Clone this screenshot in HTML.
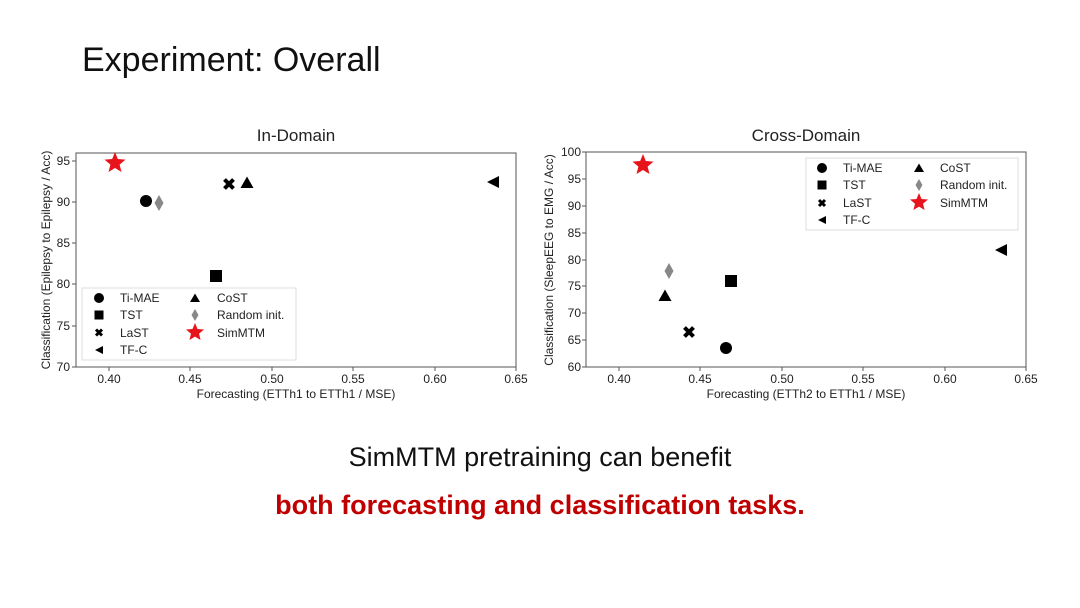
<!DOCTYPE html>
<html><head><meta charset="utf-8"><style>
html,body{margin:0;padding:0;background:#fff;width:1080px;height:608px;overflow:hidden}
svg{display:block}
</style></head><body>
<svg width="1080" height="608" xmlns="http://www.w3.org/2000/svg" font-family="Liberation Sans, sans-serif">
<text x="82" y="71" font-size="34" fill="#111">Experiment: Overall</text>

<!-- LEFT -->
<text x="296" y="141" font-size="17" text-anchor="middle" fill="#222">In-Domain</text>
<rect x="76" y="153" width="440" height="214" fill="none" stroke="#555" stroke-width="1"/>
<g font-size="12" fill="#222" text-anchor="end">
<text x="70" y="165">95</text><text x="70" y="206">90</text><text x="70" y="247">85</text>
<text x="70" y="288">80</text><text x="70" y="330">75</text><text x="70" y="371">70</text>
</g>
<g stroke="#555"><line x1="72" y1="161" x2="76" y2="161"/><line x1="72" y1="202" x2="76" y2="202"/><line x1="72" y1="243" x2="76" y2="243"/><line x1="72" y1="284" x2="76" y2="284"/><line x1="72" y1="326" x2="76" y2="326"/><line x1="72" y1="367" x2="76" y2="367"/>
<line x1="109" y1="367" x2="109" y2="371"/><line x1="190" y1="367" x2="190" y2="371"/><line x1="272" y1="367" x2="272" y2="371"/><line x1="353" y1="367" x2="353" y2="371"/><line x1="435" y1="367" x2="435" y2="371"/><line x1="516" y1="367" x2="516" y2="371"/></g>
<g font-size="12" fill="#222" text-anchor="middle">
<text x="109" y="383">0.40</text><text x="190" y="383">0.45</text><text x="272" y="383">0.50</text><text x="353" y="383">0.55</text><text x="435" y="383">0.60</text><text x="516" y="383">0.65</text>
</g>
<text x="296" y="398" font-size="12" text-anchor="middle" fill="#222">Forecasting (ETTh1 to ETTh1 / MSE)</text>
<text transform="translate(50,260) rotate(-90)" font-size="12" text-anchor="middle" fill="#222">Classification (Epilepsy to Epilepsy / Acc)</text>
<polygon points="115,152 117.8,159 125.5,159.6 119.6,164.6 121.5,172 115,168 108.5,172 110.4,164.6 104.5,159.6 112.2,159" fill="#e8141c"/>
<circle cx="146" cy="201" r="6" fill="#000"/>
<polygon points="159,195 163.5,203 159,211 154.5,203" fill="#888"/>
<rect x="210" y="270" width="12" height="12" fill="#000"/>
<path d="M224.5,179.5 L233.5,188.5 M233.5,179.5 L224.5,188.5" stroke="#000" stroke-width="4"/>
<polygon points="247,176.5 253.5,188 240.5,188" fill="#000"/>
<polygon points="487,182 499,176 499,188" fill="#000"/>
<rect x="82" y="288" width="214" height="72" fill="#fff" stroke="#ddd"/>
<g font-size="12" fill="#222">
<circle cx="99" cy="298" r="5" fill="#000"/><text x="120" y="302">Ti-MAE</text>
<rect x="94.5" y="310.5" width="9" height="9" fill="#000"/><text x="120" y="319">TST</text>
<path d="M96,329.5 L102,335.5 M102,329.5 L96,335.5" stroke="#000" stroke-width="3"/><text x="120" y="337">LaST</text>
<polygon points="95,350 103,346 103,354" fill="#000"/><text x="120" y="354">TF-C</text>
<polygon points="195,293.5 200,302 190,302" fill="#000"/><text x="217" y="302">CoST</text>
<polygon points="195,309 198.5,315 195,321 191.5,315" fill="#888"/><text x="217" y="319">Random init.</text>
<polygon points="195,323 197.5,329 204,329.5 199,333.7 200.6,340 195,336.6 189.4,340 191,333.7 186,329.5 192.5,329" fill="#e8141c"/><text x="217" y="337">SimMTM</text>
</g>

<!-- RIGHT -->
<text x="806" y="141" font-size="17" text-anchor="middle" fill="#222">Cross-Domain</text>
<rect x="586" y="152" width="440" height="215" fill="none" stroke="#555" stroke-width="1"/>
<g font-size="12" fill="#222" text-anchor="end">
<text x="581" y="156">100</text><text x="581" y="183">95</text><text x="581" y="210">90</text><text x="581" y="237">85</text>
<text x="581" y="264">80</text><text x="581" y="290">75</text><text x="581" y="317">70</text><text x="581" y="344">65</text><text x="581" y="371">60</text>
</g>
<g stroke="#555"><line x1="582" y1="152" x2="586" y2="152"/><line x1="582" y1="179" x2="586" y2="179"/><line x1="582" y1="206" x2="586" y2="206"/><line x1="582" y1="233" x2="586" y2="233"/><line x1="582" y1="260" x2="586" y2="260"/><line x1="582" y1="286" x2="586" y2="286"/><line x1="582" y1="313" x2="586" y2="313"/><line x1="582" y1="340" x2="586" y2="340"/><line x1="582" y1="367" x2="586" y2="367"/>
<line x1="619" y1="367" x2="619" y2="371"/><line x1="700" y1="367" x2="700" y2="371"/><line x1="782" y1="367" x2="782" y2="371"/><line x1="863" y1="367" x2="863" y2="371"/><line x1="945" y1="367" x2="945" y2="371"/><line x1="1026" y1="367" x2="1026" y2="371"/></g>
<g font-size="12" fill="#222" text-anchor="middle">
<text x="619" y="383">0.40</text><text x="700" y="383">0.45</text><text x="782" y="383">0.50</text><text x="863" y="383">0.55</text><text x="945" y="383">0.60</text><text x="1026" y="383">0.65</text>
</g>
<text x="806" y="398" font-size="12" text-anchor="middle" fill="#222">Forecasting (ETTh2 to ETTh1 / MSE)</text>
<text transform="translate(553,260) rotate(-90)" font-size="12" text-anchor="middle" fill="#222">Classification (SleepEEG to EMG / Acc)</text>
<polygon points="643,154 645.8,161 653.5,161.6 647.6,166.6 649.5,174 643,170 636.5,174 638.4,166.6 632.5,161.6 640.2,161" fill="#e8141c"/>
<polygon points="669,263 673.5,271 669,279 664.5,271" fill="#888"/>
<polygon points="665,289.5 671.5,301 658.5,301" fill="#000"/>
<rect x="725" y="275" width="12" height="12" fill="#000"/>
<path d="M684.5,327.5 L693.5,336.5 M693.5,327.5 L684.5,336.5" stroke="#000" stroke-width="4"/>
<circle cx="726" cy="348" r="6" fill="#000"/>
<polygon points="995,250 1007,244 1007,256" fill="#000"/>
<rect x="806" y="158" width="212" height="72" fill="#fff" stroke="#ddd"/>
<g font-size="12" fill="#222">
<circle cx="822" cy="168" r="5" fill="#000"/><text x="843" y="172">Ti-MAE</text>
<rect x="817.5" y="180.5" width="9" height="9" fill="#000"/><text x="843" y="189">TST</text>
<path d="M819,200 L825,206 M825,200 L819,206" stroke="#000" stroke-width="3"/><text x="843" y="207">LaST</text>
<polygon points="818,220 826,216 826,224" fill="#000"/><text x="843" y="224">TF-C</text>
<polygon points="919,163.5 924,172 914,172" fill="#000"/><text x="940" y="172">CoST</text>
<polygon points="919,179 922.5,185 919,191 915.5,185" fill="#888"/><text x="940" y="189">Random init.</text>
<polygon points="919,193 921.5,199 928,199.5 923,203.7 924.6,210 919,206.6 913.4,210 915,203.7 910,199.5 916.5,199" fill="#e8141c"/><text x="940" y="207">SimMTM</text>
</g>

<text x="540" y="466" font-size="27" text-anchor="middle" fill="#111">SimMTM pretraining can benefit</text>
<text x="540" y="514" font-size="27" font-weight="bold" text-anchor="middle" fill="#c00000">both forecasting and classification tasks.</text>
</svg>
</body></html>
